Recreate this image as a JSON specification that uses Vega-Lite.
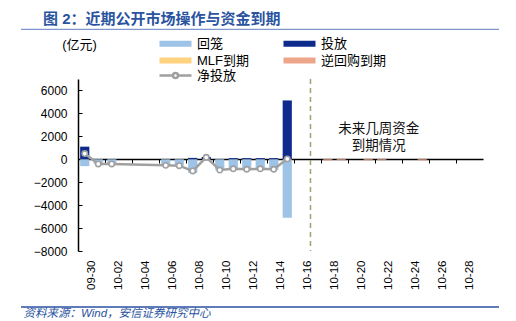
{
  "$schema": "https://vega.github.io/schema/vega-lite/v6.json",
  "width": 405,
  "height": 172,
  "autosize": "none",
  "padding": {"left": 78, "top": 79, "right": 33, "bottom": 70},
  "title": {
    "text": "图 2：近期公开市场操作与资金到期",
    "anchor": "start",
    "frame": "group",
    "dx": -35,
    "dy": 9,
    "fontSize": 15,
    "fontWeight": "bold",
    "color": "#2A54A0",
    "baseline": "middle",
    "offset": 4
  },
  "datasets": {
    "bars": [
      {"date": "09-30", "type": "投放", "value": 1100},
      {"date": "09-30", "type": "回笼", "value": -600},
      {"date": "10-01", "type": "回笼", "value": -400},
      {"date": "10-02", "type": "回笼", "value": -400},
      {"date": "10-06", "type": "回笼", "value": -550},
      {"date": "10-07", "type": "回笼", "value": -560},
      {"date": "10-08", "type": "投放", "value": 120},
      {"date": "10-08", "type": "回笼", "value": -1200},
      {"date": "10-09", "type": "投放", "value": 200},
      {"date": "10-10", "type": "回笼", "value": -950},
      {"date": "10-11", "type": "投放", "value": 100},
      {"date": "10-11", "type": "回笼", "value": -950},
      {"date": "10-12", "type": "投放", "value": 100},
      {"date": "10-12", "type": "回笼", "value": -950},
      {"date": "10-13", "type": "投放", "value": 100},
      {"date": "10-13", "type": "回笼", "value": -950},
      {"date": "10-14", "type": "投放", "value": 100},
      {"date": "10-14", "type": "回笼", "value": -950},
      {"date": "10-15", "type": "投放", "value": 5130},
      {"date": "10-15", "type": "回笼", "value": -5100},
      {"date": "10-18", "type": "逆回购到期", "value": -110},
      {"date": "10-19", "type": "逆回购到期", "value": -80},
      {"date": "10-21", "type": "逆回购到期", "value": -100},
      {"date": "10-22", "type": "逆回购到期", "value": -80},
      {"date": "10-25", "type": "逆回购到期", "value": -100}
    ],
    "net": [
      {"date": "09-30", "net": 500},
      {"date": "10-01", "net": -410},
      {"date": "10-02", "net": -410},
      {"date": "10-06", "net": -530},
      {"date": "10-07", "net": -560},
      {"date": "10-08", "net": -1020},
      {"date": "10-09", "net": 170},
      {"date": "10-10", "net": -940},
      {"date": "10-11", "net": -830},
      {"date": "10-12", "net": -870},
      {"date": "10-13", "net": -830},
      {"date": "10-14", "net": -870},
      {"date": "10-15", "net": 30}
    ]
  },
  "layer": [
    {
      "layer": [
        {
          "data": {"name": "bars"},
          "mark": {"type": "bar", "width": {"band": 0.68}},
          "encoding": {
            "x": {
              "field": "date",
              "type": "ordinal",
              "scale": {
                "domain": ["09-30","10-01","10-02","10-03","10-04","10-05","10-06","10-07","10-08","10-09","10-10","10-11","10-12","10-13","10-14","10-15","10-16","10-17","10-18","10-19","10-20","10-21","10-22","10-23","10-24","10-25","10-26","10-27","10-28","10-29"],
                "paddingInner": 0,
                "paddingOuter": 0
              },
              "axis": {
                "values": ["09-30","10-02","10-04","10-06","10-08","10-10","10-12","10-14","10-16","10-18","10-20","10-22","10-24","10-26","10-28"],
                "offset": -92,
                "bandPosition": 0,
                "domainColor": "#000000",
                "domainWidth": 1.5,
                "tickColor": "#000000",
                "tickSize": 4,
                "tickWidth": 1,
                "labelAngle": 270,
                "labelAlign": "right",
                "labelBaseline": "middle",
                "labelOffset": 6.75,
                "labelPadding": 97,
                "labelFontSize": 11.5,
                "labelColor": "#000000",
                "labelOverlap": false,
                "title": "资料来源：Wind，安信证券研究中心",
                "titleX": -55,
                "titleY": 154,
                "titleAlign": "left",
                "titleAnchor": "start",
                "titleBaseline": "middle",
                "titleFontStyle": "italic",
                "titleFontWeight": "normal",
                "titleFontSize": 11.5,
                "titleColor": "#2A54A0"
              }
            },
            "y": {
              "field": "value",
              "type": "quantitative",
              "stack": "zero",
              "scale": {"domain": [-8000, 7000], "nice": false, "zero": false},
              "axis": {
                "values": [-8000, -6000, -4000, -2000, 0, 2000, 4000, 6000],
                "tickCount": 8,
                "grid": false,
                "format": "d",
                "labelOverlap": false,
                "domainColor": "#000000",
                "domainWidth": 1.5,
                "tickColor": "#000000",
                "tickSize": -4,
                "labelPadding": 15,
                "labelFontSize": 12,
                "labelColor": "#000000",
                "title": "(亿元)",
                "titleAngle": 0,
                "titleX": 1,
                "titleY": -35,
                "titleAlign": "center",
                "titleBaseline": "middle",
                "titleFontWeight": "normal",
                "titleFontSize": 13,
                "titleColor": "#000000"
              }
            },
            "color": {
              "field": "type",
              "type": "nominal",
              "scale": {
                "domain": ["回笼", "MLF到期", "投放", "逆回购到期"],
                "range": ["#9DC3E6", "#FFD27F", "#0E2A8C", "#EDA68A"]
              },
              "legend": {
                "title": null,
                "orient": "none",
                "legendX": 80,
                "legendY": -42,
                "columns": 2,
                "columnPadding": 32,
                "rowPadding": 3,
                "symbolType": "M-1,-0.6H5.4V0.6H-1Z",
                "symbolSize": 100,
                "symbolStrokeWidth": 0,
                "symbolOpacity": 1,
                "labelOffset": 26,
                "labelFontSize": 13,
                "labelColor": "#000000"
              }
            }
          }
        },
        {
          "data": {"name": "net"},
          "mark": {
            "type": "line",
            "strokeWidth": 2.5,
            "point": {"filled": false, "fill": "white", "size": 28, "strokeWidth": 1.6}
          },
          "encoding": {
            "x": {
              "field": "date",
              "type": "ordinal",
              "scale": {
                "domain": ["09-30","10-01","10-02","10-03","10-04","10-05","10-06","10-07","10-08","10-09","10-10","10-11","10-12","10-13","10-14","10-15","10-16","10-17","10-18","10-19","10-20","10-21","10-22","10-23","10-24","10-25","10-26","10-27","10-28","10-29"]
              }
            },
            "y": {
              "field": "net",
              "type": "quantitative",
              "axis": {
                "values": [-8000, -6000, -4000, -2000, 0, 2000, 4000, 6000],
                "tickCount": 8,
                "grid": false,
                "format": "d",
                "labelOverlap": false,
                "domainColor": "#000000",
                "domainWidth": 1.5,
                "tickColor": "#000000",
                "tickSize": -4,
                "labelPadding": 15,
                "labelFontSize": 12,
                "labelColor": "#000000",
                "title": "(亿元)",
                "titleAngle": 0,
                "titleX": 1,
                "titleY": -35,
                "titleAlign": "center",
                "titleBaseline": "middle",
                "titleFontWeight": "normal",
                "titleFontSize": 13,
                "titleColor": "#000000"
              }
            },
            "stroke": {
              "datum": "净投放",
              "type": "nominal",
              "scale": {"domain": ["净投放"], "range": ["#A0A0A0"]},
              "legend": {
                "title": null,
                "orient": "none",
                "legendX": 80,
                "legendY": -10,
                "symbolType": "M-1,0H1.7M2.7,0H5.4M2.7,0A0.5,0.5,0,1,1,1.7,0A0.5,0.5,0,1,1,2.7,0",
                "symbolSize": 100,
                "symbolStrokeWidth": 2.5,
                "symbolFillColor": "white",
                "labelOffset": 26,
                "labelFontSize": 13,
                "labelColor": "#000000"
              }
            }
          }
        },
        {
          "data": {"values": [{}]},
          "mark": {"type": "rule", "strokeDash": [5, 4], "color": "#A39E6E", "strokeWidth": 1.5},
          "encoding": {
            "x": {
              "datum": "10-17",
              "type": "ordinal",
              "bandPosition": 0.22,
              "scale": {
                "domain": ["09-30","10-01","10-02","10-03","10-04","10-05","10-06","10-07","10-08","10-09","10-10","10-11","10-12","10-13","10-14","10-15","10-16","10-17","10-18","10-19","10-20","10-21","10-22","10-23","10-24","10-25","10-26","10-27","10-28","10-29"]
              }
            }
          }
        },
        {
          "data": {"values": [{}]},
          "mark": {
            "type": "text",
            "text": ["未来几周资金", "到期情况"],
            "fontSize": 13.5,
            "color": "#111111",
            "lineHeight": 16.6,
            "baseline": "middle",
            "align": "center"
          },
          "encoding": {
            "x": {
              "datum": "10-22",
              "type": "ordinal",
              "bandPosition": 0.27,
              "scale": {
                "domain": ["09-30","10-01","10-02","10-03","10-04","10-05","10-06","10-07","10-08","10-09","10-10","10-11","10-12","10-13","10-14","10-15","10-16","10-17","10-18","10-19","10-20","10-21","10-22","10-23","10-24","10-25","10-26","10-27","10-28","10-29"]
              }
            },
            "y": {
              "datum": 2640,
              "type": "quantitative",
              "axis": {
                "values": [-8000, -6000, -4000, -2000, 0, 2000, 4000, 6000],
                "tickCount": 8,
                "grid": false,
                "format": "d",
                "labelOverlap": false,
                "domainColor": "#000000",
                "domainWidth": 1.5,
                "tickColor": "#000000",
                "tickSize": -4,
                "labelPadding": 15,
                "labelFontSize": 12,
                "labelColor": "#000000",
                "title": "(亿元)",
                "titleAngle": 0,
                "titleX": 1,
                "titleY": -35,
                "titleAlign": "center",
                "titleBaseline": "middle",
                "titleFontWeight": "normal",
                "titleFontSize": 13,
                "titleColor": "#000000"
              }
            }
          }
        }
      ]
    },
    {
      "data": {"values": [{}]},
      "layer": [
        {
          "mark": {"type": "rule", "color": "#7F97CC", "strokeWidth": 1.2},
          "encoding": {
            "x": {"datum": -0.1407, "type": "quantitative", "scale": {"domain": [0, 1]}, "axis": null},
            "x2": {"datum": 1.0395},
            "y": {"datum": 11334, "type": "quantitative", "scale": {"domain": [-8000, 7000], "nice": false, "zero": false}, "axis": null}
          }
        },
        {
          "mark": {"type": "rule", "color": "#2B50A0", "strokeWidth": 1.5},
          "encoding": {
            "x": {"datum": -0.1407, "type": "quantitative", "scale": {"domain": [0, 1]}, "axis": null},
            "x2": {"datum": 1.0395},
            "y": {"datum": -12884, "type": "quantitative", "scale": {"domain": [-8000, 7000], "nice": false, "zero": false}, "axis": null}
          }
        }
      ]
    }
  ],
  "resolve": {"scale": {"x": "independent", "y": "independent"}},
  "config": {
    "font": "Liberation Sans, Noto Sans CJK SC",
    "view": {"stroke": null},
    "axis": {"labelFont": "Liberation Sans, Noto Sans CJK SC", "titleFont": "Liberation Sans, Noto Sans CJK SC"},
    "legend": {"labelFont": "Liberation Sans, Noto Sans CJK SC"},
    "title": {"font": "Liberation Sans, Noto Sans CJK SC"}
  }
}
